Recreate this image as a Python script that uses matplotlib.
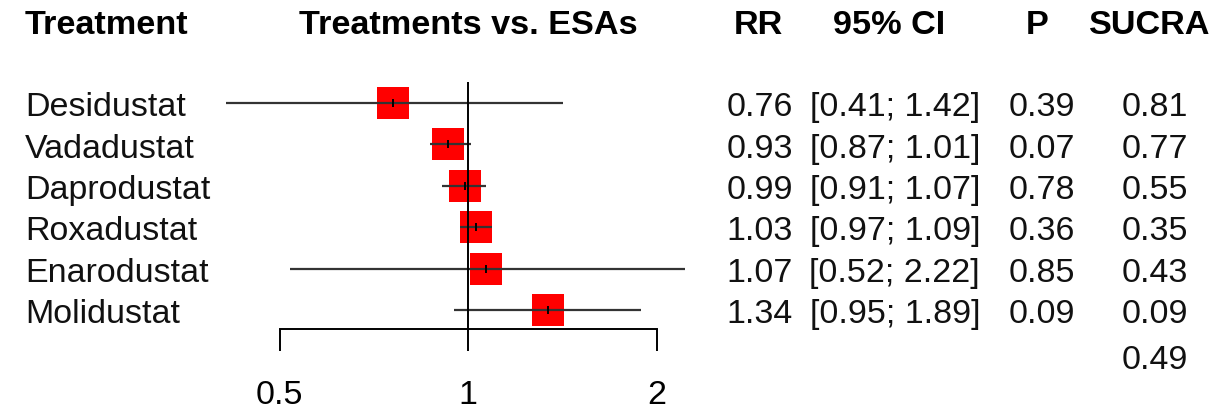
import numpy as np
import matplotlib
matplotlib.use("Agg")
import matplotlib.pyplot as plt
from matplotlib.ticker import NullLocator
from matplotlib.transforms import blended_transform_factory

plt.rcParams['font.family'] = ['Liberation Sans', 'DejaVu Sans']

# Network meta-analysis results, each treatment compared with ESAs
treatments = ["Desidustat", "Vadadustat", "Daprodustat", "Roxadustat", "Enarodustat", "Molidustat"]
rr = [0.76, 0.93, 0.99, 1.03, 1.07, 1.34]
ci_low = [0.41, 0.87, 0.91, 0.97, 0.52, 0.95]
ci_high = [1.42, 1.01, 1.07, 1.09, 2.22, 1.89]
p_values = [0.39, 0.07, 0.78, 0.36, 0.85, 0.09]
sucra = [0.81, 0.77, 0.55, 0.35, 0.43, 0.09]
sucra_esa = 0.49
ticks = [0.5, 1, 2]
tick_labels = ["0.5", "1", "2"]

W, H = 1226, 410
fig = plt.figure(figsize=(W / 100, H / 100), dpi=100)
ax = fig.add_axes([0, 0, 1, 1])
ax.set_xscale('log', base=2)
ax.set_xlim(0.1788, 16.24)
ax.set_ylim(8.39, -1.51)

rows = np.arange(1, len(treatments) + 1)
axis_y = 6.47
header_y = -0.9
dy = 0.09  # nudge so the digits sit on the row centre

# point estimates, then intervals and the line of no effect drawn over them
ax.scatter(rr, rows, marker='s', s=530, color='#ff0000', lw=0, zorder=2)
ax.hlines(rows, ci_low, ci_high, color='#333333', lw=1.6, zorder=3)
ax.scatter(rr, rows, marker='|', s=40, color='black', lw=1.4, zorder=4)
ax.vlines(1, 0.49, axis_y, color='black', lw=1.4, zorder=3)

for side in ['top', 'left', 'right']:
    ax.spines[side].set_visible(False)
ax.spines['bottom'].set_position(('data', axis_y))
ax.spines['bottom'].set_bounds(ticks[0], ticks[-1])
ax.spines['bottom'].set_linewidth(1.4)
ax.set_xticks(ticks)
ax.set_xticklabels(tick_labels)
ax.xaxis.set_minor_locator(NullLocator())
ax.tick_params(axis='x', direction='out', length=15.5, width=1.4,
               labelsize=24.5, pad=20, colors='black')
ax.set_yticks([])

fx = blended_transform_factory(fig.transFigure, ax.transData)


def px(x):
    return x / W


# column headers
bold = dict(fontsize=24.7, fontweight='bold', va='center')
ax.text(px(25), header_y, "Treatment", transform=fx, ha='left', **bold)
ax.text(1, header_y, "Treatments vs. ESAs", ha='center', **bold)
ax.text(px(758), header_y, "RR", transform=fx, ha='center', **bold)
ax.text(px(889), header_y, "95% CI", transform=fx, ha='center', **bold)
ax.text(px(1037), header_y, "P", transform=fx, ha='center', **bold)
ax.text(px(1150), header_y, "SUCRA", transform=fx, ha='center', **bold)

# table body
body = dict(fontsize=24.5, va='center', color='#111111')
for i, name in enumerate(treatments):
    y = rows[i] + dy
    ax.text(px(25), y, name, transform=fx, ha='left', **body)
    ax.text(px(793), y, f"{rr[i]:.2f}", transform=fx, ha='right', **body)
    ax.text(px(980), y, f"[{ci_low[i]:.2f}; {ci_high[i]:.2f}]", transform=fx, ha='right', **body)
    ax.text(px(1075), y, f"{p_values[i]:.2f}", transform=fx, ha='right', **body)
    ax.text(px(1188), y, f"{sucra[i]:.2f}", transform=fx, ha='right', **body)
ax.text(px(1188), len(treatments) + 1.1 + dy, f"{sucra_esa:.2f}", transform=fx, ha='right', **body)

fig.savefig("out.png", dpi=100)
